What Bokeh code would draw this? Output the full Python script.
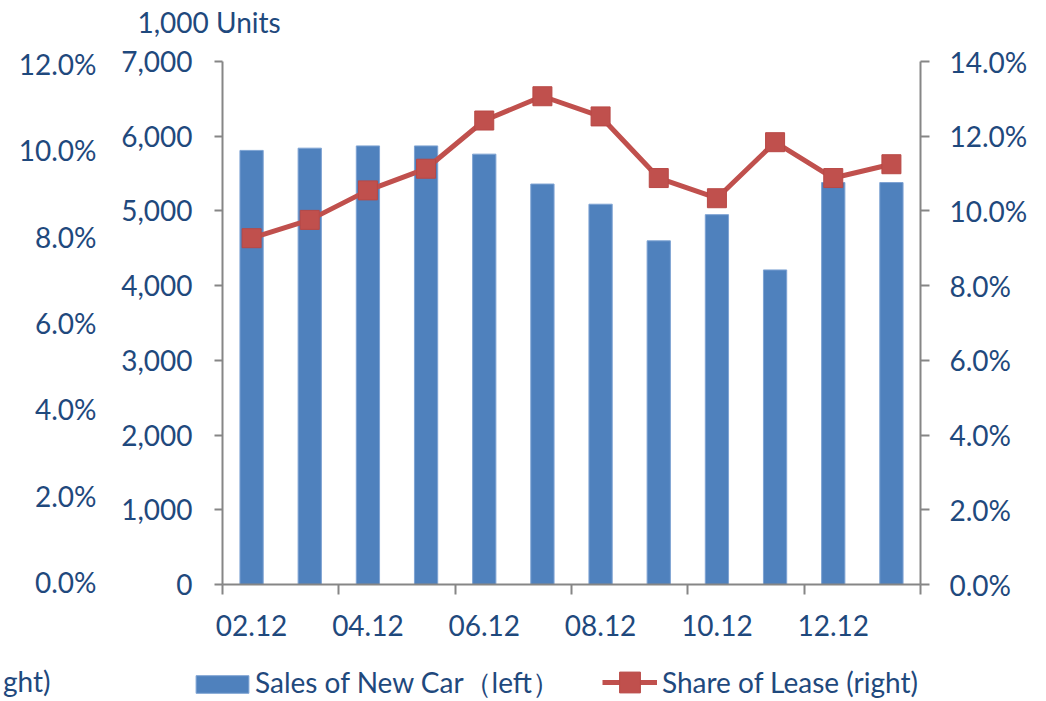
from bokeh.plotting import figure
from bokeh.layouts import column
from bokeh.models import (LinearAxis, Range1d, FixedTicker, NumeralTickFormatter,
                          PrintfTickFormatter, Legend, LegendItem, Label, ColumnDataSource)
from bokeh.embed import file_html
from bokeh.resources import INLINE

# ---- data ----
months = ["02.12", "03.12", "04.12", "05.12", "06.12", "07.12",
          "08.12", "09.12", "10.12", "11.12", "12.12", "13.12"]
sales_new_car = [5810, 5840, 5870, 5870, 5760, 5360, 5090, 4600, 4950, 4210, 5380, 5380]
share_of_lease = [9.27, 9.76, 10.55, 11.13, 12.42, 13.07, 12.53, 10.88, 10.34, 11.84, 10.88, 11.25]
left_ticks = [0, 1000, 2000, 3000, 4000, 5000, 6000, 7000]
right_ticks = [0, 2, 4, 6, 8, 10, 12, 14]
ghost_ticks = [0, 2, 4, 6, 8, 10, 12]

FONT = "Lato"
FS = "28px"
TXT = "#1F497D"
AX = "#868686"
BAR = "#4F81BD"
BAR_EDGE = "#7EA3D3"
RED = "#C0504D"
W = 1040

xs = list(range(len(months)))
src = ColumnDataSource(dict(x=xs, sales=sales_new_car, share=share_of_lease))


def strip(h):
    f = figure(width=W, height=h, output_backend="svg", toolbar_location=None,
               x_axis_type=None, y_axis_type=None,
               x_range=Range1d(0, 1), y_range=Range1d(0, 1),
               min_border=0, min_border_left=0, min_border_right=0,
               min_border_top=0, min_border_bottom=0)
    f.frame_align = False
    f.outline_line_color = None
    f.grid.visible = False
    return f


# ---- top strip: unit text ----
p_top = strip(41)
p_top.add_layout(Label(x=137, y=20, x_units="screen", y_units="screen", text="1,000 Units",
                       text_font=FONT, text_font_size=FS, text_color=TXT,
                       text_align="left", text_baseline="alphabetic"))

# ---- main chart ----
p = figure(width=W, height=609, output_backend="svg", toolbar_location=None,
           x_range=Range1d(-0.5, len(months) - 0.5), y_range=Range1d(0, 7000),
           min_border_left=222, min_border_right=W - 920, min_border_top=20, min_border_bottom=66)
p.frame_align = False
p.extra_y_ranges = {"share": Range1d(0, 14), "ghost": Range1d(-0.06, 12.06)}
p.outline_line_color = None
p.xgrid.visible = False
p.ygrid.visible = False

bars = p.vbar(x="x", top="sales", width=0.4, source=src,
              fill_color=BAR, line_color=BAR_EDGE, line_width=1)
line = p.line(x="x", y="share", source=src, y_range_name="share",
              line_color=RED, line_width=5)
pts = p.scatter(x="x", y="share", source=src, y_range_name="share", marker="square",
                size=19, fill_color=RED, line_color="#B84845", line_width=1)


def style_axis(ax):
    ax.axis_line_color = AX
    ax.axis_line_width = 2
    ax.major_tick_line_color = AX
    ax.major_tick_line_width = 2
    ax.minor_tick_line_color = None
    ax.major_tick_in = 0
    ax.major_label_text_font = FONT
    ax.major_label_text_font_size = FS
    ax.major_label_text_color = TXT


xa = p.xaxis[0]
style_axis(xa)
major_x = xs[::2]
minor_x = [i - 0.5 for i in xs[::2]] + [len(months) - 0.5]
xa.ticker = FixedTicker(ticks=major_x, minor_ticks=minor_x)
xa.major_label_overrides = {i: months[i] for i in major_x}
xa.major_tick_out = 0
xa.major_tick_line_color = None
xa.minor_tick_line_color = AX
xa.minor_tick_line_width = 2
xa.minor_tick_out = 10
xa.minor_tick_in = 0
xa.major_label_standoff = 20

ya = p.yaxis[0]
style_axis(ya)
ya.ticker = FixedTicker(ticks=left_ticks)
ya.formatter = NumeralTickFormatter(format="0,0")
ya.major_tick_out = 8
ya.major_label_standoff = 22

ra = LinearAxis(y_range_name="share", ticker=FixedTicker(ticks=right_ticks),
                formatter=PrintfTickFormatter(format="%.1f%%"))
style_axis(ra)
ra.major_tick_out = 9
ra.major_label_standoff = 20
p.add_layout(ra, "right")

ga = LinearAxis(y_range_name="ghost", ticker=FixedTicker(ticks=ghost_ticks),
                formatter=PrintfTickFormatter(format="%.1f%%"))
style_axis(ga)
ga.axis_line_color = None
ga.major_tick_line_color = None
ga.major_tick_out = 0
ga.major_label_standoff = 22
p.add_layout(ga, "left")

# ---- bottom strip: legend ----
p_bot = strip(50)
bar_proxy = p_bot.vbar(x="x", top="sales", width=0.4, source=src,
                       fill_color=BAR, line_color=BAR_EDGE, line_width=1, visible=False)
line_proxy = p_bot.line(x="x", y="share", source=src, line_color=RED, line_width=5, visible=False)
pts_proxy = p_bot.scatter(x="x", y="share", source=src, marker="square",
                          fill_color=RED, line_color="#B84845", line_width=1, visible=False)

leg_common = dict(orientation="horizontal", padding=0, margin=0, border_line_color=None,
                  background_fill_alpha=0, label_text_font=FONT, label_text_font_size=FS,
                  label_text_color=TXT)
leg1 = Legend(items=[LegendItem(label="Sales of New Car（left）", renderers=[bar_proxy])],
              location=(189, -3), glyph_width=66, glyph_height=22, label_height=22,
              label_standoff=0, **leg_common)
leg2 = Legend(items=[LegendItem(label="Share of Lease (right)", renderers=[line_proxy, pts_proxy])],
              location=(602, -8), glyph_width=55, glyph_height=52, label_height=52,
              label_standoff=5, **leg_common)
p_bot.add_layout(leg1, "center")
p_bot.add_layout(leg2, "center")
p_bot.add_layout(Label(x=50, y=20, x_units="screen", y_units="screen", text="ght)",
                       text_font=FONT, text_font_size=FS, text_color=TXT,
                       text_align="right", text_baseline="alphabetic"))

layout = column(p_top, p, p_bot, spacing=0)
open("out.html", "w").write(file_html(layout, INLINE))
